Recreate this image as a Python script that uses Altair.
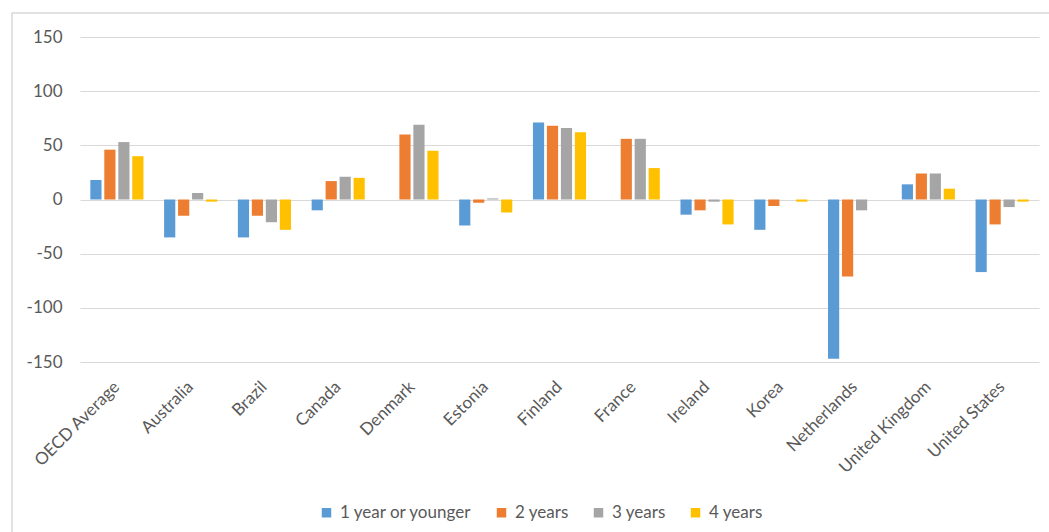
import altair as alt
import pandas as pd

countries = ["OECD Average", "Australia", "Brazil", "Canada", "Denmark", "Estonia",
             "Finland", "France", "Ireland", "Korea", "Netherlands",
             "United Kingdom", "United States"]
series = ["1 year or younger", "2 years", "3 years", "4 years"]
colors = ["#5B9BD5", "#ED7D31", "#A5A5A5", "#FFC000"]

age_1 = [18, -35, -35, -10, None, -24, 71, None, -14, -28, -147, 14, -67]
age_2 = [46, -15, -15, 17, 60, -3, 68, 56, -10, -6, -71, 24, -23]
age_3 = [53, 6, -21, 21, 69, 1, 66, 56, -2, None, -10, 24, -7]
age_4 = [40, -2, -28, 20, 45, -12, 62, 29, -23, -2, None, 10, -2]
y_ticks = [-150, -100, -50, 0, 50, 100, 150]

rows = []
for name, vals in zip(series, [age_1, age_2, age_3, age_4]):
    for c, v in zip(countries, vals):
        if v is not None:
            rows.append({"country": c, "group": name, "value": v})
df = pd.DataFrame(rows)

FONT = "Lato"
TXT = "#595959"
GRID = "#D9D9D9"

bars = alt.Chart(df).mark_bar().encode(
    x=alt.X("country:N", sort=countries,
            scale=alt.Scale(paddingInner=0.28, paddingOuter=0.14),
            axis=alt.Axis(title=None, labelAngle=-45, labelAlign="right",
                          labelBaseline="middle", labelPadding=22, ticks=False,
                          domain=False, grid=False, labelFont=FONT, labelFontSize=17,
                          labelColor=TXT, labelLimit=300)),
    xOffset=alt.XOffset("group:N", sort=series,
                        scale=alt.Scale(paddingInner=0.2, paddingOuter=0)),
    y=alt.Y("value:Q",
            scale=alt.Scale(domain=[-150, 150], nice=False, zero=True),
            axis=alt.Axis(title=None, values=y_ticks, labelExpr="datum.value + ''",
                          grid=True, gridColor=GRID, gridWidth=1.2, ticks=False,
                          domain=False, labelFont=FONT, labelFontSize=17,
                          labelColor=TXT, labelPadding=18)),
    color=alt.Color("group:N", sort=series,
                    scale=alt.Scale(domain=series, range=colors),
                    legend=alt.Legend(title=None, orient="none", direction="horizontal",
                                      legendX=238, legendY=467,
                                      symbolType="square", symbolSize=90,
                                      symbolStrokeWidth=0, labelFont=FONT,
                                      labelFontSize=17, labelColor=TXT,
                                      labelOffset=5, columnPadding=21,
                                      labelLimit=300)),
)

# outer chart frame (top and left edges visible inside the page)
frame = alt.Chart(pd.DataFrame({"k": [0]})).mark_rect(
    fill="transparent", stroke=GRID, strokeWidth=1.5, clip=False
).encode(
    x=alt.value(-68), x2=alt.value(1100),
    y=alt.value(-24), y2=alt.value(700),
)

chart = alt.layer(frame, bars).properties(
    width=959, height=325,
    background="white",
    autosize=alt.AutoSizeParams(type="none"),
    padding={"left": 80, "top": 37, "right": 10, "bottom": 170},
).configure_view(strokeWidth=0)

chart.save("out.html", embed_options={"renderer": "svg", "actions": False})
